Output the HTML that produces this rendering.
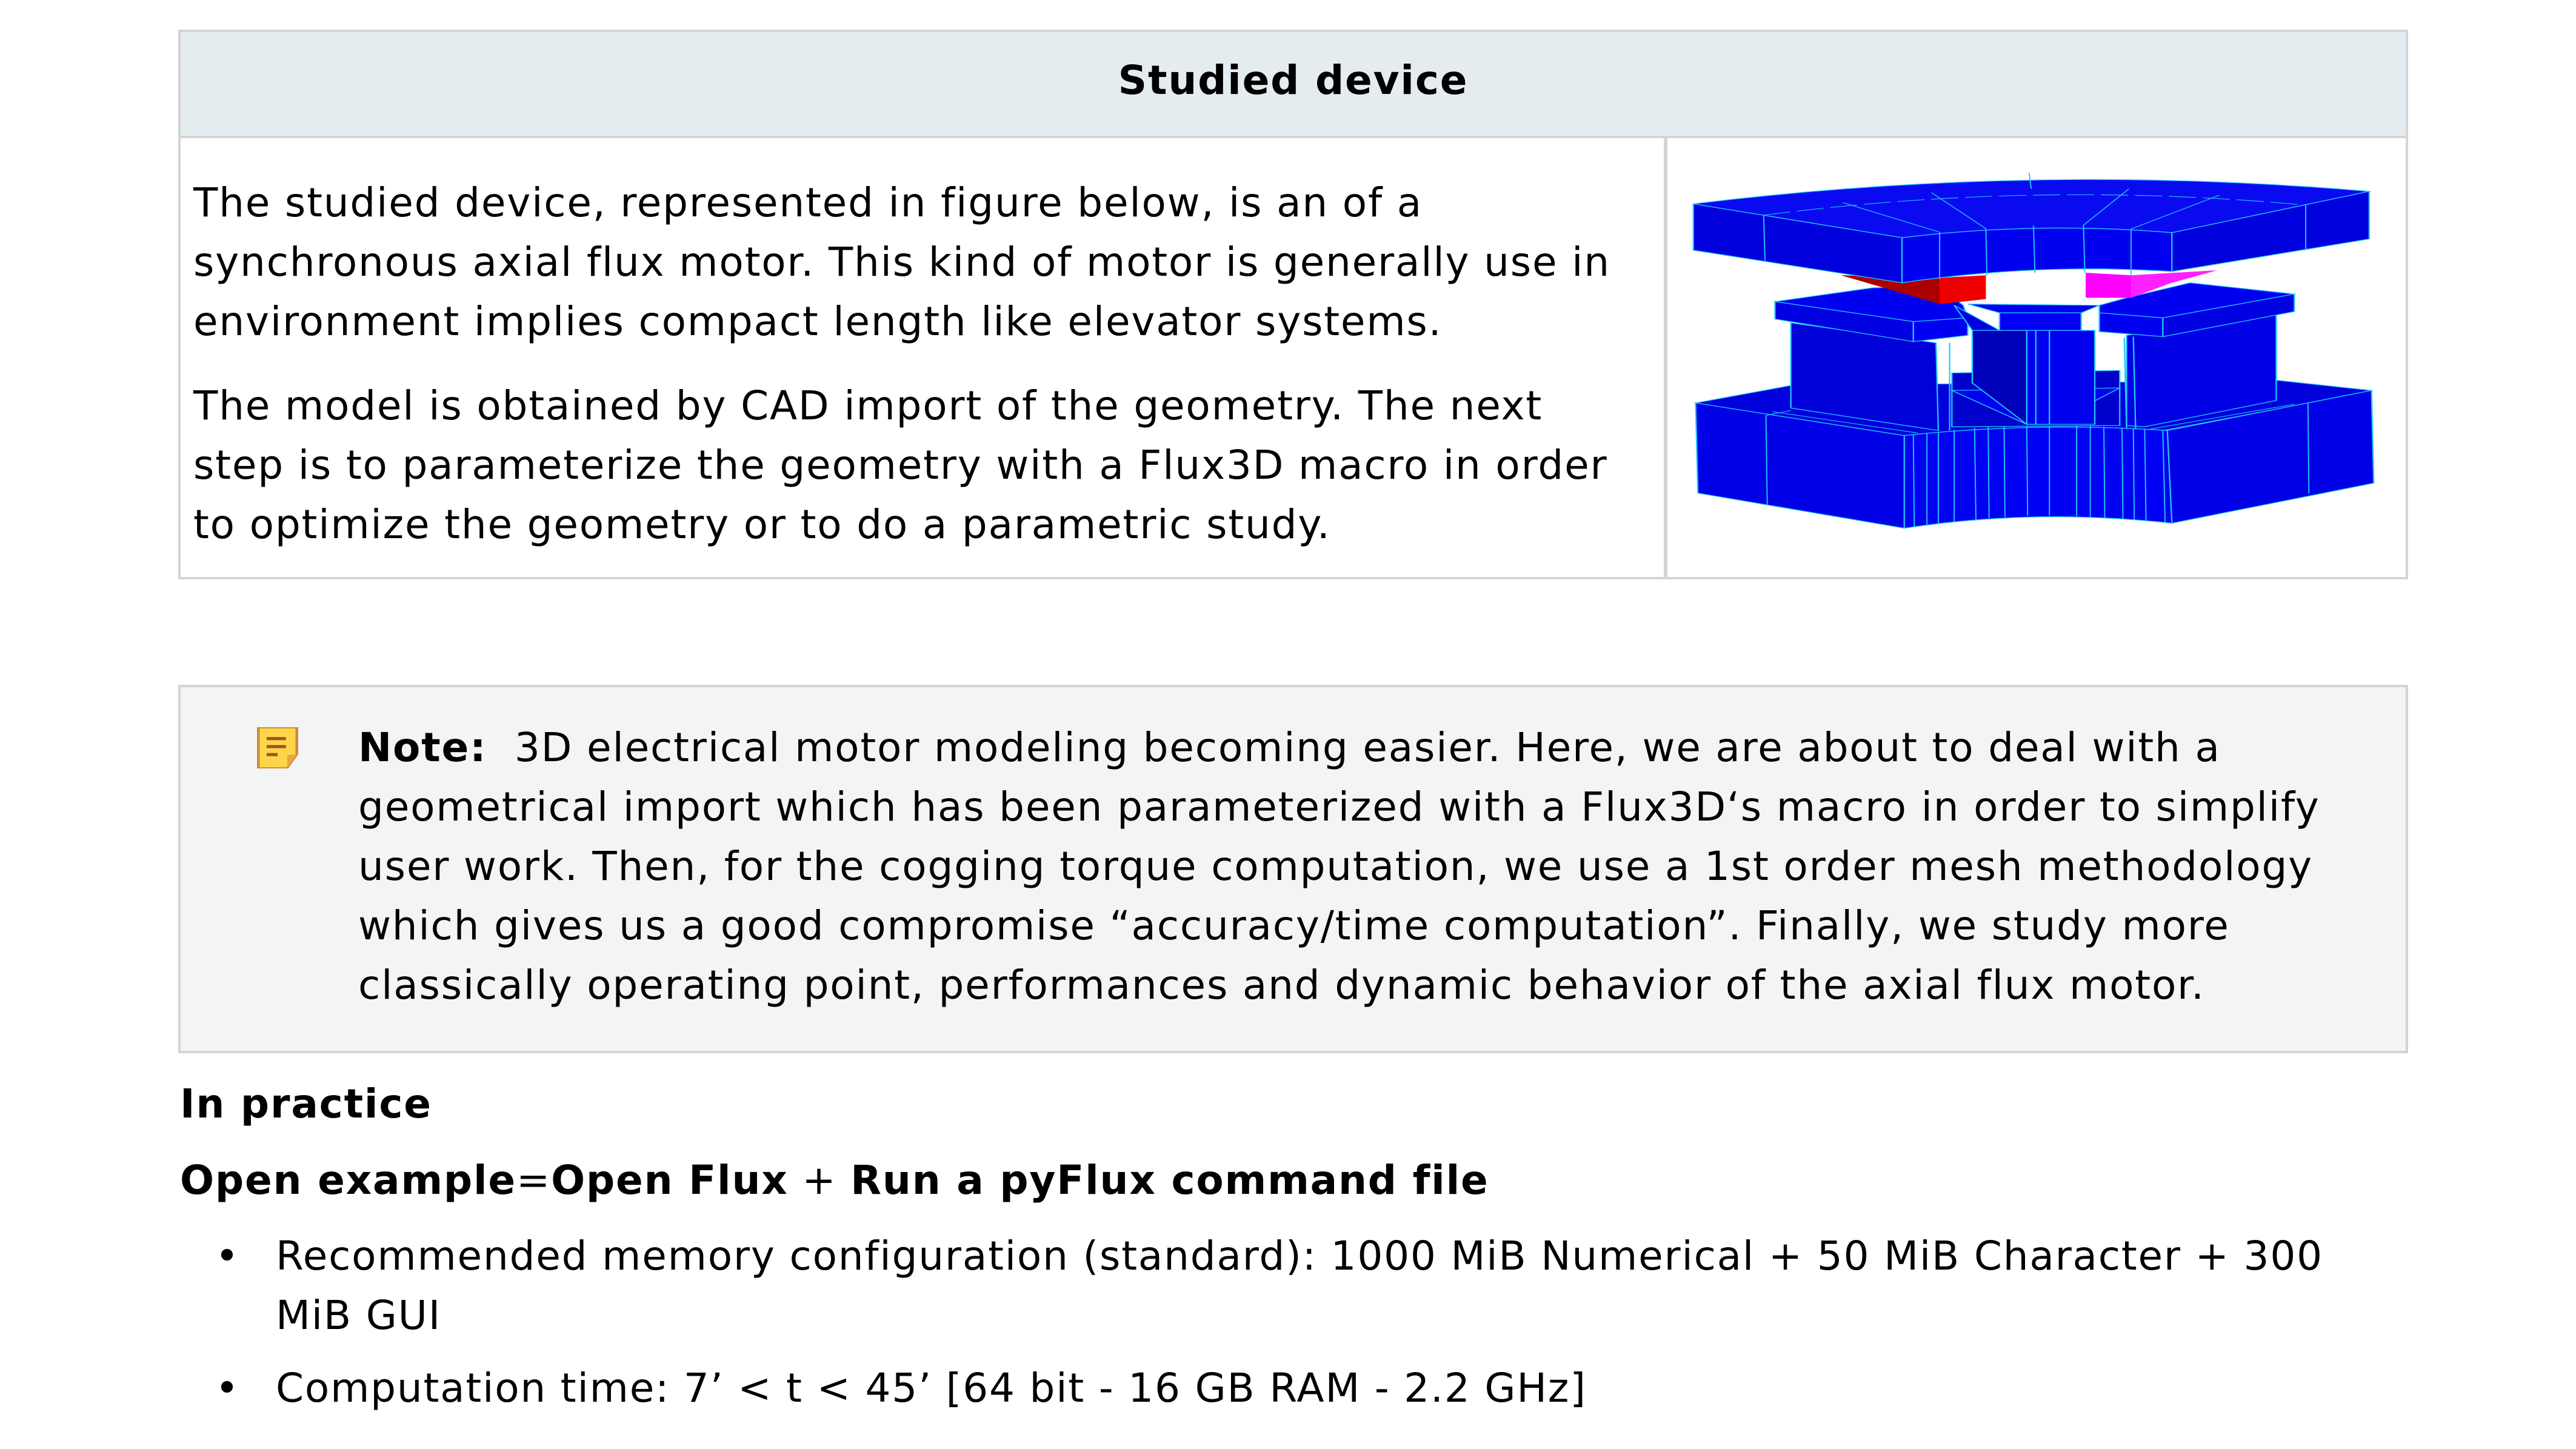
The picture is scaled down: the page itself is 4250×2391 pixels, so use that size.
<!DOCTYPE html>
<html><head><meta charset="utf-8">
<style>
html,body{margin:0;padding:0;background:#fff;}
body{width:4250px;height:2391px;position:relative;overflow:hidden;font-family:"DejaVu Sans","Liberation Sans",sans-serif;color:#000;}
.t{position:absolute;white-space:nowrap;font-size:66px;line-height:98px;letter-spacing:1.8px;}
.b{font-weight:bold;}
</style></head><body>
<!-- table -->
<div style="position:absolute;left:294px;top:49px;width:3671px;height:899px;border:4px solid #d4d4d4;"></div>
<div style="position:absolute;left:298px;top:53px;width:3671px;height:171px;background:#e5ecf0;border-bottom:4px solid #d4d4d4;"></div>
<div style="position:absolute;left:2745px;top:228px;width:6px;height:724px;background:#d4d4d4;"></div>
<div class="t b" style="left:298px;width:3671px;text-align:center;top:84px;">Studied device</div>
<div class="t" style="left:319px;top:286px;">The studied device, represented in figure below, is an of a</div>
<div class="t" style="left:319px;top:384px;">synchronous axial flux motor. This kind of motor is generally use in</div>
<div class="t" style="left:319px;top:482px;">environment implies compact length like elevator systems.</div>
<div class="t" style="left:319px;top:621px;">The model is obtained by CAD import of the geometry. The next</div>
<div class="t" style="left:319px;top:719px;">step is to parameterize the geometry with a Flux3D macro in order</div>
<div class="t" style="left:319px;top:817px;">to optimize the geometry or to do a parametric study.</div>
<!-- motor image -->
<svg style="position:absolute;left:2790px;top:260px;" width="1160" height="650" viewBox="0 0 1550 1573" preserveAspectRatio="none">
<g stroke="#22c8ff" stroke-width="3">
<!-- bottom block -->
<path d="M10,980 L220,910 L1295,890 L1500,930 L1050,1090 Q760,1060 470,1110 Z" fill="#0000dd"/>
<path d="M10,980 L470,1110 Q760,1055 1050,1090 L1500,930 L1505,1300 L1060,1460 Q760,1400 470,1480 L15,1340 Z" fill="#0000e6"/>
<path d="M470,1110 Q760,1055 1050,1090 L1060,1460 Q760,1400 470,1480 Z" fill="#0000f2"/>
<g fill="none" stroke-width="2.5">
<line x1="165" y1="1030" x2="168" y2="1390"/><line x1="1360" y1="980" x2="1362" y2="1340"/>
<line x1="490" y1="1105" x2="492" y2="1475"/><line x1="520" y1="1100" x2="520" y2="1470"/><line x1="545" y1="1095" x2="545" y2="1465"/><line x1="580" y1="1088" x2="580" y2="1455"/><line x1="625" y1="1080" x2="628" y2="1445"/><line x1="655" y1="1076" x2="657" y2="1440"/><line x1="690" y1="1072" x2="692" y2="1435"/><line x1="740" y1="1068" x2="742" y2="1430"/><line x1="790" y1="1068" x2="790" y2="1430"/><line x1="850" y1="1070" x2="850" y2="1432"/><line x1="880" y1="1072" x2="880" y2="1435"/><line x1="910" y1="1075" x2="912" y2="1438"/><line x1="950" y1="1078" x2="952" y2="1442"/><line x1="975" y1="1082" x2="977" y2="1446"/><line x1="1000" y1="1085" x2="1003" y2="1450"/><line x1="1040" y1="1090" x2="1045" y2="1458"/>
<line x1="165" y1="1030" x2="220" y2="1010"/><line x1="180" y1="1015" x2="500" y2="1100"/><line x1="1360" y1="980" x2="1040" y2="1090"/><line x1="1330" y1="985" x2="1010" y2="1085"/>
</g>
<!-- back region behind post -->
<path d="M575,860 L945,850 L945,1070 L575,1075 Z" fill="#0000cc"/>
<path d="M575,930 L945,920 L790,1065 L740,1065 Z" fill="#0000ee"/>
<!-- pillars -->
<path d="M220,660 L540,740 L545,1090 L220,1000 Z" fill="#0000d8"/>
<path d="M960,710 L1290,615 L1290,970 L1000,1075 L960,1070 Z" fill="#0000e4"/>
<line x1="570" y1="740" x2="570" y2="1090"/><line x1="955" y1="720" x2="960" y2="1080"/><line x1="975" y1="715" x2="980" y2="1085"/>
<!-- central post -->
<path d="M620,690 L890,690 L890,1065 L740,1065 L620,900 Z" fill="#0000f0"/>
<path d="M620,690 L740,690 L740,1065 L620,900 Z" fill="#0000bb"/>
<line x1="790" y1="690" x2="790" y2="1065"/><line x1="760" y1="690" x2="760" y2="1065"/>
<!-- middle plate left -->
<path d="M185,575 L400,520 L548,515 L600,590 L610,640 L490,665 Z" fill="#0000f0"/>
<path d="M185,575 L490,655 L490,735 L185,645 Z" fill="#0000e0"/>
<path d="M490,655 L610,640 L610,710 L490,735 Z" fill="#0000f0"/>
<!-- middle plate right -->
<path d="M900,590 L960,560 L1100,500 L1330,545 L1040,640 L900,620 Z" fill="#0000f0"/>
<path d="M1040,640 L1330,545 L1330,615 L1040,715 Z" fill="#0000e0"/>
<path d="M900,620 L1040,640 L1040,715 L900,695 Z" fill="#0000f0"/>
<!-- central top block -->
<path d="M610,585 L900,590 L860,620 L680,620 Z" fill="#0000ee"/>
<path d="M680,620 L860,620 L860,690 L680,690 Z" fill="#0000f4"/>
<path d="M580,590 L680,690 L620,690 Z" fill="#0000dd"/>
<!-- magnets -->
<path d="M330,470 L548,480 L548,585 Z" fill="#aa0000" stroke="none"/>
<path d="M548,480 L650,470 L650,565 L548,585 Z" fill="#ee0000" stroke="none"/>
<path d="M870,460 L970,470 L970,560 L870,560 Z" fill="#ff00ff" stroke="none"/>
<path d="M970,470 L1160,450 L1060,500 L970,560 Z" fill="#ff20ff" stroke="none"/>
<!-- top ring -->
<path d="M5,185 Q750,20 1495,135 L1060,300 Q760,255 465,320 Z" fill="#0a0af0"/>
<path d="M5,185 L465,320 Q760,255 1060,300 L1495,135 L1495,325 L1060,455 Q760,420 465,500 L5,370 Z" fill="#0000dd"/>
<path d="M465,320 Q760,255 1060,300 L1060,455 Q760,420 465,500 Z" fill="#0000f0"/>
<g fill="none" stroke-width="2.5">
<line x1="160" y1="230" x2="163" y2="412"/><line x1="1355" y1="190" x2="1355" y2="370"/>
<line x1="548" y1="298" x2="548" y2="485"/><line x1="650" y1="284" x2="652" y2="470"/><line x1="755" y1="272" x2="758" y2="460"/><line x1="865" y1="270" x2="868" y2="460"/><line x1="970" y1="285" x2="970" y2="470"/>
<path d="M160,230 Q760,90 1355,190" stroke-dasharray="60 15"/>
<line x1="335" y1="180" x2="548" y2="298"/><line x1="530" y1="140" x2="650" y2="284"/><line x1="965" y1="125" x2="865" y2="270"/><line x1="1165" y1="150" x2="970" y2="285"/><line x1="745" y1="60" x2="750" y2="125"/>
</g>
</g>
</svg>
<!-- note -->
<div style="position:absolute;left:294px;top:1130px;width:3671px;height:600px;border:4px solid #d4d4d4;background:#f3f4f6;"></div>
<svg style="position:absolute;left:424px;top:1200px;" width="68" height="68" viewBox="0 0 30 67" preserveAspectRatio="none">
<path d="M1,1 L29,1 L29,44 L22,66 L1,66 Z" fill="#fcd54a" stroke="#d08a3a" stroke-width="2"/>
<path d="M29,44 L22,45 L22,66 Z" fill="#e9a73e"/>
<rect x="7" y="16" width="14" height="5" fill="#a0521e"/><rect x="7" y="29" width="14" height="5" fill="#a0521e"/><rect x="7" y="42" width="8" height="5" fill="#a0521e"/>
</svg>
<div class="t" style="left:591px;top:1185px;"><span class="b">Note:</span>&nbsp; 3D electrical motor modeling becoming easier. Here, we are about to deal with a</div>
<div class="t" style="left:591px;top:1283px;">geometrical import which has been parameterized with a Flux3D‘s macro in order to simplify</div>
<div class="t" style="left:591px;top:1381px;">user work. Then, for the cogging torque computation, we use a 1st order mesh methodology</div>
<div class="t" style="left:591px;top:1479px;">which gives us a good compromise “accuracy/time computation”. Finally, we study more</div>
<div class="t" style="left:591px;top:1577px;">classically operating point, performances and dynamic behavior of the axial flux motor.</div>
<!-- bottom -->
<div class="t b" style="left:297px;top:1773px;">In practice</div>
<div class="t" style="left:297px;top:1899px;"><span class="b">Open example</span>=<span class="b">Open Flux</span> + <span class="b">Run a pyFlux command file</span></div>
<div class="t" style="left:355px;top:2024px;">•</div>
<div class="t" style="left:455px;top:2024px;">Recommended memory configuration (standard): 1000 MiB Numerical + 50 MiB Character + 300</div>
<div class="t" style="left:455px;top:2122px;">MiB GUI</div>
<div class="t" style="left:355px;top:2242px;">•</div>
<div class="t" style="left:455px;top:2242px;">Computation time: 7’ &lt; t &lt; 45’ [64 bit - 16 GB RAM - 2.2 GHz]</div>
</body></html>
